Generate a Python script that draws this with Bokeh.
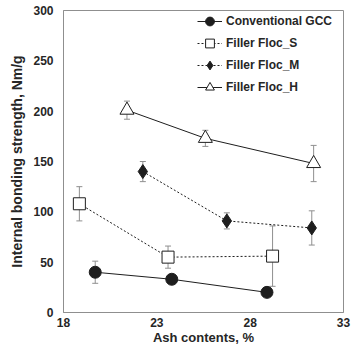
from bokeh.plotting import figure
from bokeh.models import ColumnDataSource, Whisker, Range1d, FixedTicker, Legend, LegendItem, TeeHead
from bokeh.embed import file_html
from bokeh.resources import INLINE

# ---- data ----
gcc_x = [19.7, 23.8, 28.9]
gcc_y = [40, 33, 20]
gcc_err = [11, 3, 3]

fs_x = [18.85, 23.6, 29.2]
fs_y = [108, 55, 56]
fs_err = [17, 11, 30]

fm_x = [22.25, 26.75, 31.3]
fm_y = [140, 91, 84]
fm_err = [10, 8, 17]

fh_x = [21.4, 25.6, 31.4]
fh_y = [201, 173, 148]
fh_err = [9, 8, 18]

x_ticks = [18, 23, 28, 33]
y_ticks = [0, 50, 100, 150, 200, 250, 300]

FONT = "Liberation Sans"
TXT = "#262626"
GRAY = "#8f8f8f"
DARK = "#1e1e1e"

p = figure(width=351, height=347, output_backend="svg", toolbar_location=None,
           x_range=Range1d(18, 33), y_range=Range1d(0, 300),
           min_border_left=63, min_border_right=8, min_border_top=10, min_border_bottom=33)
p.xgrid.visible = False
p.ygrid.visible = False
p.outline_line_color = GRAY
p.outline_line_width = 1
p.background_fill_color = "white"
p.border_fill_color = "white"

for ax in (p.xaxis[0], p.yaxis[0]):
    ax.axis_line_color = GRAY
    ax.major_tick_line_color = None
    ax.minor_tick_line_color = None
    ax.major_tick_out = 0
    ax.major_tick_in = 0
    ax.major_label_text_font = FONT
    ax.major_label_text_font_style = "bold"
    ax.major_label_text_font_size = "12px"
    ax.major_label_text_color = TXT
    ax.axis_label_text_font = FONT
    ax.axis_label_text_font_style = "bold"
    ax.axis_label_text_font_size = "13px"
    ax.axis_label_text_color = TXT

p.yaxis.axis_label_text_font_size = "14px"
p.xaxis.ticker = FixedTicker(ticks=x_ticks)
p.yaxis.ticker = FixedTicker(ticks=y_ticks)
p.xaxis.axis_label = "Ash contents, %"
p.yaxis.axis_label = "Internal bonding strength, Nm/g"
p.xaxis.major_label_standoff = 5
p.xaxis.axis_label_standoff = 0
p.yaxis.major_label_standoff = 10
p.yaxis.axis_label_standoff = 5

series = [
    ("Conventional GCC", gcc_x, gcc_y, gcc_err, "circle", DARK, "solid", 12),
    ("Filler Floc_S", fs_x, fs_y, fs_err, "square", "white", "2 2", 12),
    ("Filler Floc_M", fm_x, fm_y, fm_err, "diamond", DARK, "2 2", 14),
    ("Filler Floc_H", fh_x, fh_y, fh_err, "triangle", "white", "solid", 14),
]

items = []
for name, xs, ys, es, marker, fill, dash, size in series:
    src = ColumnDataSource(dict(x=xs, y=ys,
                                lo=[y - e for y, e in zip(ys, es)],
                                hi=[y + e for y, e in zip(ys, es)]))
    w = Whisker(base="x", lower="lo", upper="hi", source=src, level="underlay",
                line_color=GRAY, line_width=1,
                upper_head=TeeHead(size=6, line_color=GRAY, line_width=1),
                lower_head=TeeHead(size=6, line_color=GRAY, line_width=1))
    p.add_layout(w)
    ln = p.line("x", "y", source=src, line_color=DARK, line_width=1, line_dash=dash)
    sc = p.scatter("x", "y", source=src, marker=marker, size=size,
                   fill_color=fill, line_color=DARK, line_width=1)
    items.append(LegendItem(label=name, renderers=[ln, sc]))

legend = Legend(items=items, location=(134, 214), padding=0, margin=0, spacing=0,
                glyph_width=25, glyph_height=22, label_height=22, label_standoff=4,
                label_text_font=FONT, label_text_font_style="bold",
                label_text_font_size="12px", label_text_color=TXT,
                border_line_color=None, background_fill_alpha=0)
p.add_layout(legend)

open("out.html", "w").write(file_html(p, INLINE))
